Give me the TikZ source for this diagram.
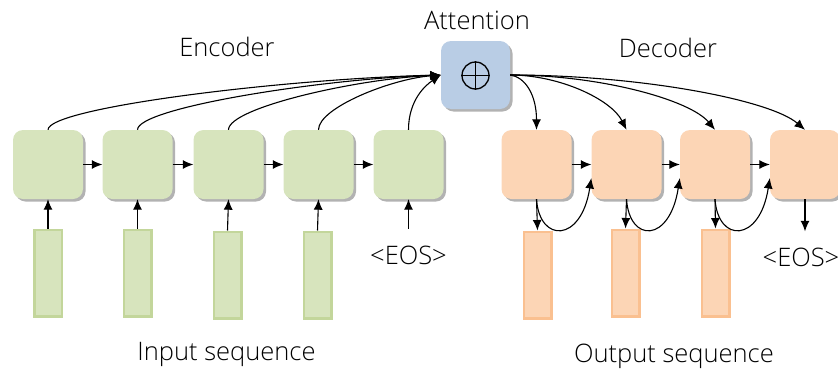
\documentclass[tikz,border=0pt]{standalone}
\usepackage{fontspec}
\setmainfont{Open Sans Light}
\usetikzlibrary{arrows.meta,shadows}

\definecolor{encfill}{HTML}{D7E4BD}
\definecolor{encline}{HTML}{C3D69B}
\definecolor{decfill}{HTML}{FCD5B5}
\definecolor{decline}{HTML}{FAC090}
\definecolor{attfill}{HTML}{B9CDE5}

\begin{document}
\begin{tikzpicture}[x=1pt,y=-1pt,
  cell/.style={rounded corners=10pt, minimum width=70pt, minimum height=69pt, inner sep=0pt,
    drop shadow={shadow xshift=2.5pt, shadow yshift=-2.5pt, fill=black, opacity=0.3}},
  enc/.style={cell, fill=encfill},
  dec/.style={cell, fill=decfill},
  att/.style={cell, fill=attfill, minimum width=69pt, minimum height=68pt},
  tok/.style={minimum width=27.5pt, minimum height=86.5pt, line width=2.5pt, inner sep=0pt},
  intok/.style={tok, draw=encline, fill=encfill},
  outtok/.style={tok, draw=decline, fill=decfill},
  conn/.style={-{Latex[length=10.5pt,width=9pt]}, line width=1.1pt},
  lbl/.style={font=\fontsize{25.5}{30}\selectfont, inner sep=0pt},
  eos/.style={lbl, text height=18pt, text depth=0pt, inner ysep=8pt},
]
\useasboundingbox (0,0) rectangle (838,370);

% encoder cells and input tokens
\node[enc] (e1) at (48,164.5) {};
\node[enc] (e2) at (137.5,164.5) {};
\node[enc] (e3) at (228.5,164.5) {};
\node[enc] (e4) at (318.5,164.5) {};
\node[enc] (e5) at (408.5,164.5) {};
\node[intok] (i1) at (48,273) {};
\node[intok] (i2) at (137.5,273) {};
\node[intok] (i3) at (227.5,275) {};
\node[intok] (i4) at (317.5,275) {};
\node[eos] (eos1) at (408.5,255) {<EOS>};

% attention block
\node[att] (att) at (475.5,75) {};
\node[circle, draw, line width=1.3pt, minimum size=27pt, inner sep=0pt] (plus) at (475.5,75.5) {};
\draw[line width=1.3pt] (plus.north) -- (plus.south) (plus.west) -- (plus.east);

% decoder cells and output tokens
\node[dec] (d1) at (536.5,164.5) {};
\node[dec] (d2) at (626.5,164.5) {};
\node[dec] (d3) at (715,164.5) {};
\node[dec] (d4) at (805,164.5) {};
\node[outtok] (o1) at (537.5,275) {};
\node[outtok] (o2) at (625.5,273) {};
\node[outtok] (o3) at (715.5,273) {};
\node[eos] (eos2) at (801,257.5) {<EOS>};

% labels
\node[lbl] (tatt) at (477,20) {Attention};
\node[lbl] (tenc) at (227,47) {Encoder};
\node[lbl] (tdec) at (668,48) {Decoder};
\node[lbl] (tin) at (226.5,354) {Input sequence};
\node[lbl] (tout) at (674,356) {Output sequence};

% encoder recurrence and inputs
\foreach \a/\b in {e1/e2,e2/e3,e3/e4,e4/e5} \draw[conn] (\a.east) -- (\b.west);
\foreach \t/\c in {i1/e1,i2/e2,i3/e3,i4/e4} \draw[conn] (\t.north) -- (\c.south);
\draw[conn, shorten <=9pt] (eos1.north) -- (e5.south);

% encoder states into attention
\draw[conn] (e1.north) .. controls +(0,-22) and +(-160,4) .. (att.west);
\draw[conn] (e2.north) .. controls +(0,-22) and +(-120,4) .. (att.west);
\draw[conn] (e3.north) .. controls +(0,-22) and +(-85,4) .. (att.west);
\draw[conn] (e4.north) .. controls +(0,-22) and +(-50,4) .. (att.west);
\draw[conn] (e5.north) .. controls +(0,-30) and +(-15,10) .. (att.west);

% attention context into decoder
\draw[conn] (att.east) .. controls +(15,2) and +(0,-35) .. (d1.north);
\draw[conn] (att.east) .. controls +(50,0) and +(-15,-30) .. (d2.north);
\draw[conn] (att.east) .. controls +(90,0) and +(-25,-30) .. (d3.north);
\draw[conn] (att.east) .. controls +(130,0) and +(-35,-30) .. (d4.north);

% decoder recurrence, outputs and feedback
\foreach \a/\b in {d1/d2,d2/d3,d3/d4} \draw[conn] (\a.east) -- (\b.west);
\foreach \c/\t in {d1/o1,d2/o2,d3/o3} \draw[conn] (\c.south) -- (\t.north);
\draw[conn, shorten >=9pt] (d4.south) -- (d4.south |- eos2.north);
\foreach \a/\b in {d1/d2,d2/d3,d3/d4}
  \draw[conn] (\a.south) .. controls +(3,44) and +(-10,65) .. (\b.201);
\end{tikzpicture}
\end{document}
